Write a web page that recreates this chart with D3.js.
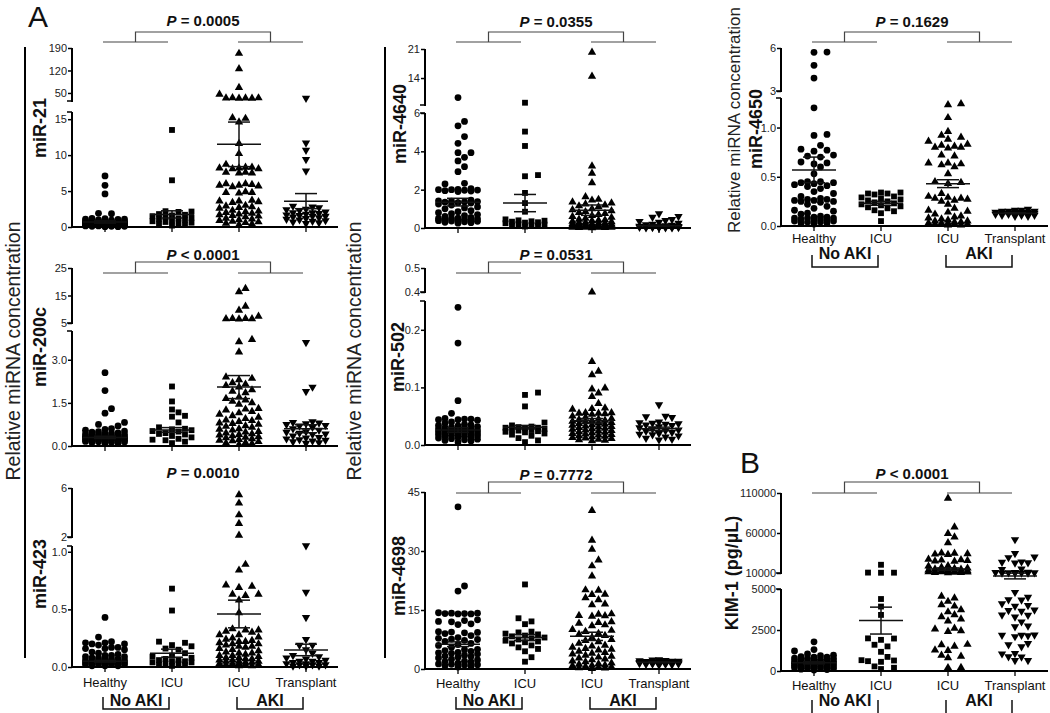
<!DOCTYPE html>
<html><head><meta charset="utf-8">
<script src="https://cdn.jsdelivr.net/npm/d3@7"></script>
<style>
body{margin:0;background:#fff}
svg{display:block}
text{font-family:"Liberation Sans",Arial,Helvetica,sans-serif}
</style>
</head><body>
<svg id="chart" width="1050" height="713"></svg>
<script>
// ---------------- DATA ----------------
const groupLabels = ["Healthy", "ICU", "ICU", "Transplant"];
const outcomeLabels = ["No AKI", "AKI"];

// miR-21
const mir21Healthy = [7.1, 5.8, 4.6, 1.9, 1.85, 1.2, 1.15, 1.1, 1.1, 1.05, 1.0, 0.95, 0.9, 0.9, 0.85, 0.8, 0.8, 0.75, 0.75, 0.7, 0.7, 0.65, 0.65, 0.6, 0.6, 0.6, 0.55, 0.55, 0.5, 0.5, 0.5, 0.45, 0.45, 0.45, 0.4, 0.4, 0.4, 0.35, 0.35, 0.35, 0.3, 0.3, 0.3, 0.3, 0.25, 0.25, 0.25, 0.2, 0.2, 0.2, 0.2, 0.15, 0.15, 0.15, 0.1, 0.1, 0.1, 0.05, 0.05];
const mir21IcuNoAki = [13.5, 6.5, 2.2, 2.15, 2.1, 1.8, 1.7, 1.6, 1.5, 1.4, 1.3, 1.2, 1.1, 1.0, 0.9, 0.8, 0.7, 0.6, 0.5, 0.4, 0.3, 0.2];
const mir21IcuAki = [173, 125, 67, 46, 35, 34.5, 34, 34, 33.5, 33, 15.2, 15.1, 14.6, 11.6, 10.2, 8.7, 8.3, 8.3, 8.2, 8.2, 8.1, 8.1, 7.6, 7.6, 7.5, 7.5, 6.0, 6.0, 5.9, 5.8, 5.8, 5.7, 5.6, 4.9, 4.8, 4.8, 4.7, 3.7, 3.6, 3.6, 3.5, 3.4, 3.0, 2.9, 2.8, 2.7, 2.6, 2.3, 2.2, 2.1, 2.0, 1.9, 1.8, 1.7, 1.6, 1.5, 1.4, 1.2, 1.1, 1.0, 0.9, 0.8, 0.7, 0.6, 0.5, 0.4, 0.3];
const mir21Transplant = [34, 11.7, 10.7, 9.4, 7.8, 2.9, 2.8, 2.7, 2.5, 2.4, 2.3, 2.1, 2.0, 2.0, 1.9, 1.8, 1.7, 1.6, 1.5, 1.5, 1.4, 1.3, 1.2, 1.1, 1.0, 0.9, 0.8, 0.7, 0.6, 0.5];
const mir21Mean = [0.7, 1.75, 11.5, 3.6];
const mir21Sem = [0.15, 0.5, 3.1, 1.05];
const mir21Ticks = [0, 5, 10, 15, 50, 120, 190];
const mir21TickLabels = ["0", "5", "10", "15", "50", "120", "190"];

// miR-200c
const mir200cHealthy = [2.55, 1.93, 1.3, 1.14, 0.82, 0.75, 0.7, 0.6, 0.58, 0.55, 0.52, 0.5, 0.48, 0.46, 0.45, 0.44, 0.42, 0.4, 0.4, 0.38, 0.37, 0.36, 0.35, 0.34, 0.33, 0.32, 0.31, 0.3, 0.3, 0.29, 0.28, 0.27, 0.26, 0.25, 0.25, 0.24, 0.23, 0.22, 0.21, 0.2, 0.2, 0.19, 0.18, 0.17, 0.16, 0.15, 0.14, 0.13, 0.12, 0.1, 0.08];
const mir200cIcuNoAki = [2.07, 1.55, 1.27, 1.17, 1.05, 1.02, 0.82, 0.65, 0.6, 0.58, 0.55, 0.52, 0.5, 0.45, 0.42, 0.4, 0.35, 0.3, 0.25, 0.22, 0.2, 0.15, 0.1];
const mir200cIcuAki = [17.5, 16.3, 11.1, 9.6, 7.4, 6.6, 6.6, 6.5, 6.5, 6.4, 3.7, 3.62, 3.27, 2.4, 2.35, 2.3, 2.2, 2.15, 2.1, 2.05, 1.95, 1.9, 1.85, 1.7, 1.65, 1.6, 1.55, 1.5, 1.45, 1.3, 1.28, 1.25, 1.2, 1.15, 1.1, 1.05, 1.0, 0.95, 0.9, 0.88, 0.85, 0.8, 0.78, 0.75, 0.7, 0.68, 0.65, 0.6, 0.58, 0.55, 0.5, 0.48, 0.45, 0.42, 0.4, 0.38, 0.35, 0.32, 0.3, 0.28, 0.25, 0.22, 0.2, 0.18, 0.15, 0.12, 0.1, 0.08, 0.05];
const mir200cTransplant = [3.6, 2.05, 1.9, 0.85, 0.82, 0.8, 0.78, 0.75, 0.72, 0.7, 0.65, 0.6, 0.55, 0.5, 0.48, 0.45, 0.42, 0.4, 0.35, 0.3, 0.28, 0.25, 0.22, 0.2, 0.18, 0.15, 0.12, 0.1];
const mir200cMean = [0.3, 0.56, 2.05, 0.6];
const mir200cSem = [0.04, 0.08, 0.4, 0.14];
const mir200cTicks = [0, 1.5, 3, 5, 15, 25];
const mir200cTickLabels = ["0.0", "1.5", "3.0", "5", "15", "25"];

// miR-423
const mir423Healthy = [0.43, 0.26, 0.22, 0.21, 0.21, 0.2, 0.2, 0.19, 0.17, 0.17, 0.16, 0.16, 0.15, 0.13, 0.12, 0.11, 0.1, 0.1, 0.09, 0.09, 0.08, 0.08, 0.07, 0.07, 0.07, 0.06, 0.06, 0.06, 0.05, 0.05, 0.05, 0.05, 0.04, 0.04, 0.04, 0.04, 0.03, 0.03, 0.03, 0.03, 0.02, 0.02, 0.02, 0.02, 0.01, 0.01, 0.01];
const mir423IcuNoAki = [0.68, 0.49, 0.22, 0.21, 0.19, 0.18, 0.16, 0.15, 0.12, 0.1, 0.09, 0.08, 0.07, 0.06, 0.06, 0.05, 0.05, 0.04, 0.04, 0.03, 0.03, 0.02, 0.02, 0.01];
const mir423IcuAki = [5.45, 4.76, 3.8, 3.1, 2.14, 0.89, 0.84, 0.71, 0.7, 0.69, 0.63, 0.63, 0.62, 0.58, 0.47, 0.33, 0.32, 0.32, 0.31, 0.3, 0.28, 0.28, 0.26, 0.25, 0.24, 0.23, 0.22, 0.22, 0.21, 0.2, 0.2, 0.19, 0.18, 0.18, 0.17, 0.16, 0.15, 0.14, 0.13, 0.12, 0.12, 0.11, 0.1, 0.1, 0.09, 0.08, 0.08, 0.07, 0.07, 0.06, 0.06, 0.05, 0.05, 0.05, 0.04, 0.04, 0.03, 0.03, 0.03, 0.02, 0.02, 0.02, 0.01, 0.01];
const mir423Transplant = [1.08, 0.65, 0.43, 0.24, 0.19, 0.19, 0.15, 0.12, 0.1, 0.09, 0.08, 0.07, 0.06, 0.05, 0.05, 0.04, 0.04, 0.03, 0.03, 0.02, 0.02, 0.02, 0.01, 0.01, 0.01];
const mir423Mean = [0.05, 0.12, 0.46, 0.148];
const mir423Sem = [0.007, 0.035, 0.12, 0.05];
const mir423Ticks = [0, 0.5, 1, 2, 6];
const mir423TickLabels = ["0.0", "0.5", "1.0", "2", "6"];

// miR-4640
const mir4640Healthy = [9.3, 5.56, 5.33, 4.77, 4.42, 3.93, 3.93, 3.69, 3.5, 3.2, 2.94, 2.33, 2.3, 2.05, 2.02, 2.0, 2.0, 1.98, 1.97, 1.95, 1.93, 1.9, 1.45, 1.42, 1.4, 1.38, 1.36, 1.35, 1.32, 1.3, 1.25, 1.2, 1.1, 1.05, 1.0, 0.9, 0.85, 0.8, 0.75, 0.7, 0.65, 0.6, 0.55, 0.52, 0.5, 0.5, 0.48, 0.46, 0.44, 0.42, 0.4, 0.38, 0.36, 0.35, 0.32, 0.3, 0.28, 0.25];
const mir4640IcuNoAki = [8.05, 5.03, 4.28, 2.76, 2.7, 1.83, 1.3, 0.85, 0.45, 0.4, 0.38, 0.35, 0.33, 0.3, 0.28, 0.25, 0.2, 0.18, 0.15, 0.12, 0.1, 0.08];
const mir4640IcuAki = [20.2, 14.4, 3.23, 2.85, 2.36, 1.63, 1.49, 1.45, 1.35, 1.3, 1.25, 1.2, 1.15, 1.1, 1.0, 0.95, 0.9, 0.85, 0.8, 0.75, 0.7, 0.65, 0.6, 0.55, 0.5, 0.45, 0.42, 0.4, 0.38, 0.35, 0.32, 0.3, 0.28, 0.26, 0.25, 0.23, 0.22, 0.2, 0.19, 0.18, 0.17, 0.16, 0.15, 0.14, 0.13, 0.12, 0.11, 0.1, 0.1, 0.09, 0.08, 0.08, 0.07, 0.06, 0.06, 0.05, 0.05, 0.04, 0.04, 0.03, 0.03, 0.02, 0.02, 0.01];
const mir4640Transplant = [0.75, 0.6, 0.57, 0.45, 0.4, 0.35, 0.3, 0.25, 0.2, 0.18, 0.15, 0.12, 0.1, 0.1, 0.08, 0.07, 0.06, 0.05, 0.05, 0.04, 0.04, 0.03, 0.03, 0.02, 0.02, 0.01, 0.01];
const mir4640Mean = [1.35, 1.3, 0.93, 0.12];
const mir4640Sem = [0.2, 0.45, 0.27, 0.03];
const mir4640Ticks = [0, 2, 4, 6, 14, 21];
const mir4640TickLabels = ["0", "2", "4", "6", "14", "21"];

// miR-502
const mir502Healthy = [0.239, 0.177, 0.077, 0.055, 0.046, 0.045, 0.045, 0.044, 0.044, 0.043, 0.04, 0.038, 0.036, 0.035, 0.034, 0.033, 0.032, 0.031, 0.03, 0.03, 0.029, 0.028, 0.027, 0.026, 0.026, 0.025, 0.025, 0.024, 0.023, 0.023, 0.022, 0.021, 0.02, 0.02, 0.019, 0.018, 0.018, 0.017, 0.016, 0.015, 0.015, 0.014, 0.013, 0.012, 0.011, 0.01, 0.009, 0.008, 0.007, 0.005];
const mir502IcuNoAki = [0.091, 0.087, 0.067, 0.039, 0.034, 0.032, 0.031, 0.03, 0.03, 0.029, 0.028, 0.027, 0.026, 0.025, 0.024, 0.023, 0.022, 0.02, 0.018, 0.016, 0.012, 0.008, 0.005];
const mir502IcuAki = [0.4, 0.145, 0.128, 0.122, 0.099, 0.097, 0.09, 0.084, 0.072, 0.064, 0.063, 0.062, 0.056, 0.056, 0.055, 0.055, 0.054, 0.053, 0.05, 0.048, 0.046, 0.045, 0.044, 0.043, 0.042, 0.041, 0.04, 0.039, 0.038, 0.037, 0.036, 0.035, 0.034, 0.033, 0.032, 0.031, 0.03, 0.029, 0.028, 0.027, 0.026, 0.025, 0.024, 0.023, 0.022, 0.021, 0.02, 0.019, 0.018, 0.017, 0.016, 0.015, 0.014, 0.013, 0.012, 0.011, 0.01, 0.009, 0.008, 0.007];
const mir502Transplant = [0.07, 0.05, 0.049, 0.048, 0.04, 0.039, 0.038, 0.037, 0.036, 0.035, 0.034, 0.032, 0.03, 0.028, 0.026, 0.025, 0.024, 0.022, 0.02, 0.019, 0.018, 0.016, 0.014, 0.012, 0.01, 0.009];
const mir502Mean = [0.026, 0.031, 0.042, 0.028];
const mir502Sem = [0.004, 0.003, 0.004, 0.003];
const mir502Ticks = [0, 0.1, 0.2, 0.4, 0.5];
const mir502TickLabels = ["0.0", "0.1", "0.2", "0.4", "0.5"];

// miR-4698
const mir4698Healthy = [41.2, 21.1, 19.8, 14.3, 14.2, 14.2, 14.1, 14.1, 14.0, 14.0, 12.5, 12.3, 12.1, 12.0, 11.5, 11.3, 9.5, 9.4, 9.3, 9.2, 9.0, 8.5, 8.0, 7.8, 7.6, 7.5, 7.3, 7.0, 6.5, 6.2, 6.0, 5.5, 5.0, 4.9, 4.7, 4.5, 4.2, 4.1, 4.0, 3.8, 3.5, 3.3, 3.2, 3.0, 2.8, 2.5, 2.3, 2.0, 1.9, 1.8, 1.5, 1.3, 1.2, 1.1, 1.0, 0.8, 0.7, 0.5];
const mir4698IcuNoAki = [21.5, 12.9, 12.1, 11.4, 9.5, 9.3, 9.0, 8.8, 8.5, 8.3, 8.0, 7.8, 7.5, 7.2, 7.0, 6.8, 6.5, 6.0, 5.5, 5.1, 4.5, 3.0, 1.86];
const mir4698IcuAki = [40.3, 32.7, 30.4, 27.7, 26.2, 23.6, 20.1, 20.0, 19.0, 18.9, 18.1, 17.6, 16.5, 16.3, 14.0, 13.9, 13.6, 13.5, 13.4, 12.0, 11.8, 11.6, 11.2, 11.0, 10.0, 9.8, 9.5, 9.0, 8.8, 8.5, 8.0, 7.5, 7.2, 6.9, 6.5, 6.0, 5.8, 5.5, 5.2, 5.0, 4.8, 4.5, 4.2, 4.0, 3.8, 3.5, 3.2, 3.0, 2.8, 2.5, 2.3, 2.0, 1.8, 1.5, 1.3, 1.2, 1.0, 0.9, 0.8, 0.6, 0.5, 0.4, 0.3, 0.2, 0.1];
const mir4698Transplant = [2.4, 2.3, 2.2, 2.1, 2.0, 2.0, 1.9, 1.9, 1.8, 1.8, 1.7, 1.7, 1.6, 1.6, 1.5, 1.5, 1.5, 1.4, 1.4, 1.4, 1.3, 1.3, 1.2, 1.2, 1.1, 1.0];
const mir4698Mean = [6.3, 8.0, 8.3, 1.7];
const mir4698Sem = [0.6, 0.75, 1.05, 0.1];
const mir4698Ticks = [0, 15, 30, 45];
const mir4698TickLabels = ["0", "15", "30", "45"];

// miR-4650
const mir4650Healthy = [5.72, 5.7, 4.79, 3.9, 1.2, 0.93, 0.92, 0.82, 0.78, 0.77, 0.76, 0.72, 0.71, 0.7, 0.65, 0.64, 0.63, 0.6, 0.53, 0.45, 0.45, 0.44, 0.44, 0.43, 0.42, 0.41, 0.4, 0.38, 0.35, 0.33, 0.3, 0.28, 0.27, 0.27, 0.26, 0.26, 0.25, 0.25, 0.24, 0.22, 0.2, 0.18, 0.16, 0.15, 0.13, 0.12, 0.1, 0.09, 0.09, 0.08, 0.08, 0.08, 0.07, 0.07, 0.06, 0.06, 0.05, 0.05, 0.04, 0.04, 0.03, 0.03, 0.02];
const mir4650IcuNoAki = [0.34, 0.34, 0.33, 0.33, 0.32, 0.3, 0.29, 0.28, 0.27, 0.26, 0.25, 0.24, 0.23, 0.22, 0.21, 0.2, 0.19, 0.18, 0.16, 0.15, 0.13, 0.05];
const mir4650IcuAki = [1.24, 1.23, 1.1, 0.96, 0.92, 0.9, 0.88, 0.86, 0.83, 0.82, 0.81, 0.8, 0.8, 0.79, 0.72, 0.71, 0.64, 0.64, 0.63, 0.62, 0.6, 0.53, 0.45, 0.44, 0.43, 0.33, 0.3, 0.29, 0.28, 0.28, 0.27, 0.26, 0.25, 0.22, 0.18, 0.16, 0.15, 0.14, 0.12, 0.1, 0.09, 0.08, 0.07, 0.06, 0.05, 0.05, 0.04, 0.04, 0.03, 0.03, 0.03, 0.02, 0.02, 0.02, 0.01, 0.01];
const mir4650Transplant = [0.17, 0.16, 0.16, 0.15, 0.15, 0.15, 0.14, 0.14, 0.14, 0.14, 0.13, 0.13, 0.13, 0.13, 0.13, 0.12, 0.12, 0.12, 0.12, 0.12, 0.11, 0.11, 0.11, 0.1, 0.1];
const mir4650Mean = [0.57, 0.23, 0.43, 0.13];
const mir4650Sem = [0.13, 0.02, 0.04, 0.005];
const mir4650Ticks = [0, 0.5, 1, 3, 6];
const mir4650TickLabels = ["0.0", "0.5", "1.0", "3", "6"];

// KIM-1 (pg/uL)
const kim1Healthy = [1780, 1310, 1220, 1040, 960, 930, 880, 850, 840, 790, 770, 760, 720, 690, 680, 650, 610, 600, 590, 550, 540, 510, 500, 470, 450, 440, 410, 400, 370, 360, 330, 310, 300, 270, 260, 230, 210, 200, 170, 150, 140, 110, 90, 60];
const kim1IcuNoAki = [20300, 10500, 10400, 10300, 4390, 3930, 3420, 1990, 1980, 1900, 1600, 1500, 1170, 860, 660, 640, 600, 560, 280, 200, 120];
const kim1IcuAki = [103400, 67400, 59200, 55000, 47700, 35000, 34600, 34000, 33500, 33000, 27000, 26500, 26000, 25500, 25000, 24500, 19000, 18500, 17000, 16000, 15500, 15000, 14500, 14000, 13500, 13000, 12800, 12500, 12200, 12000, 11800, 11500, 11300, 11000, 10800, 10600, 10400, 10200, 4550, 4450, 4240, 4040, 3950, 3730, 3600, 3420, 3300, 3160, 3050, 2600, 2550, 2450, 2400, 1620, 1600, 1500, 1280, 1250, 960, 900, 800, 210, 200];
const kim1Transplant = [51800, 34600, 30000, 29300, 24000, 23500, 23000, 22500, 15000, 14500, 11000, 10800, 10600, 10400, 10300, 10200, 10100, 10000, 10000, 4800, 4500, 4350, 4340, 4100, 4000, 3950, 3730, 3700, 3650, 3420, 3400, 3300, 3000, 2750, 2700, 2200, 2190, 2180, 2150, 2100, 1680, 1600, 1480, 1070, 1050, 870, 860, 650, 640];
const kim1Mean = [500, 3074, 14900, 9060];
const kim1Sem = [60, 820, 1500, 900];
const kim1Ticks = [0, 2500, 5000, 10000, 60000, 110000];
const kim1TickLabels = ["0", "2500", "5000", "10000", "60000", "110000"];

const pTexts = ["= 0.0005", "< 0.0001", "= 0.0010", "= 0.0355", "= 0.0531", "= 0.7772", "= 0.1629", "< 0.0001"];
const panelNames = ["miR-21", "miR-200c", "miR-423", "miR-4640", "miR-502", "miR-4698", "miR-4650", "KIM-1 (pg/\u00B5L)"];

// ---------------- LAYOUT ----------------
const panels = [
  {data:[mir21Healthy,mir21IcuNoAki,mir21IcuAki,mir21Transplant], mean:mir21Mean, sem:mir21Sem, ticks:mir21Ticks, tl:mir21TickLabels,
   ax:72, xEnd:338, dom:[0,16,25,190], rng:[227,112,101,48], pY:26, br:[32,42], lab:[46,128]},
  {data:[mir200cHealthy,mir200cIcuNoAki,mir200cIcuAki,mir200cTransplant], mean:mir200cMean, sem:mir200cSem, ticks:mir200cTicks, tl:mir200cTickLabels,
   ax:72, xEnd:338, dom:[0,4,5,25], rng:[446,331,323,268], pY:260, br:[262,273], lab:[46,347]},
  {data:[mir423Healthy,mir423IcuNoAki,mir423IcuAki,mir423Transplant], mean:mir423Mean, sem:mir423Sem, ticks:mir423Ticks, tl:mir423TickLabels,
   ax:72, xEnd:338, dom:[0,1.05,2,6], rng:[667,546,537,488], pY:478, br:null, lab:[46,574], xl:{y:687, g:706, b:[697,709]}},
  {data:[mir4640Healthy,mir4640IcuNoAki,mir4640IcuAki,mir4640Transplant], mean:mir4640Mean, sem:mir4640Sem, ticks:mir4640Ticks, tl:mir4640TickLabels,
   ax:425, xEnd:691, dom:[0,6,7.5,21], rng:[228,113,105,49], pY:27, br:[32,42], lab:[406,124]},
  {data:[mir502Healthy,mir502IcuNoAki,mir502IcuAki,mir502Transplant], mean:mir502Mean, sem:mir502Sem, ticks:mir502Ticks, tl:mir502TickLabels,
   ax:425, xEnd:691, dom:[0,0.25,0.4,0.5], rng:[445,301,292,268], pY:260, br:[262,273], lab:[404,357]},
  {data:[mir4698Healthy,mir4698IcuNoAki,mir4698IcuAki,mir4698Transplant], mean:mir4698Mean, sem:mir4698Sem, ticks:mir4698Ticks, tl:mir4698TickLabels,
   ax:425, xEnd:691, dom:[0,45], rng:[669,492], pY:480, br:[482,493], lab:[405,576], xl:{y:688, g:706, b:[697,709]}},
  {data:[mir4650Healthy,mir4650IcuNoAki,mir4650IcuAki,mir4650Transplant], mean:mir4650Mean, sem:mir4650Sem, ticks:mir4650Ticks, tl:mir4650TickLabels,
   ax:781, xEnd:1048, dom:[0,1.3,3,6], rng:[226,98,91,48], pY:27, br:[32,42], lab:[762,129], xl:{y:243, g:259, b:[255,267]}},
  {data:[kim1Healthy,kim1IcuNoAki,kim1IcuAki,kim1Transplant], mean:kim1Mean, sem:kim1Sem, ticks:kim1Ticks, tl:kim1TickLabels,
   ax:781, xEnd:1048, dom:[0,5000,10000,110000], rng:[671,589,573,493], pY:479, br:[482,493], lab:[738,573], xl:{y:690, g:706, b:[700,716]}}
];

const svg = d3.select("#chart");
const shapes = [d3.symbolCircle, d3.symbolSquare, d3.symbolTriangle, d3.symbolTriangle];
const shapeSizes = [36, 34, 30, 30];

function swarm(vals, y, cx, step, maxK, diam) {
  const pts = vals.map(v => ({v, y: y(v)})).sort((a, b) => b.y - a.y);
  const ks = [0];
  for (let k = 1; k <= maxK; k++) ks.push(k, -k);
  const placed = [];
  for (const p of pts) {
    let best = cx, bestD = -1;
    for (const k of ks) {
      const x = cx + k * step;
      let minD = Infinity;
      for (const q of placed) {
        const d = Math.hypot(q.x - x, q.y - p.y);
        if (d < minD) minD = d;
      }
      if (minD >= diam) { best = x; bestD = Infinity; break; }
      if (minD > bestD) { bestD = minD; best = x; }
    }
    p.x = best;
    placed.push(p);
  }
  return placed;
}

panels.forEach((P, pi) => {
  const g = svg.append("g");
  const x = d3.scalePoint().domain(d3.range(4)).range([P.ax + 33, P.ax + 234]);
  const y = d3.scaleLinear().domain(P.dom).range(P.rng);

  const yAxis = d3.axisLeft(y).tickValues(P.ticks).tickSize(4).tickPadding(1)
    .tickFormat((d, i) => P.tl[i]);
  const ag = g.append("g").attr("transform", `translate(${P.ax},0)`).call(yAxis);
  ag.select(".domain").remove();
  ag.selectAll(".tick line").attr("stroke", "#000").attr("stroke-width", 1.5);
  ag.selectAll(".tick text").attr("font-size", 11).attr("fill", "#222")
    .attr("font-family", "'Liberation Sans',Arial,sans-serif");

  const segs = P.dom.length === 4 ? [[P.dom[0], P.dom[1]], [P.dom[2], P.dom[3]]] : [[P.dom[0], P.dom[1]]];
  segs.forEach(s => {
    g.append("line").attr("x1", P.ax).attr("x2", P.ax).attr("y1", y(s[0]) + 1).attr("y2", y(s[1]))
      .attr("stroke", "#000").attr("stroke-width", 2);
  });
  if (P.dom.length === 4) {
    [P.dom[1], P.dom[2]].forEach(v => {
      g.append("line").attr("x1", P.ax - 5).attr("x2", P.ax).attr("y1", y(v)).attr("y2", y(v))
        .attr("stroke", "#000").attr("stroke-width", 1.5);
    });
  }
  const y0 = y(0);
  g.append("line").attr("x1", P.ax - 1).attr("x2", P.xEnd).attr("y1", y0).attr("y2", y0)
    .attr("stroke", "#000").attr("stroke-width", 2);
  d3.range(4).forEach(i => {
    g.append("line").attr("x1", x(i)).attr("x2", x(i)).attr("y1", y0).attr("y2", y0 + 5)
      .attr("stroke", "#000").attr("stroke-width", 1.3);
  });

  P.data.forEach((vals, gi) => {
    const pts = swarm(vals, y, x(gi), 6.5, 3, 7);
    const sym = d3.symbol().type(shapes[gi]).size(shapeSizes[gi]);
    g.append("g").selectAll("path").data(pts).join("path")
      .attr("d", sym)
      .attr("transform", d => `translate(${d.x},${d.y})` + (gi === 3 ? " rotate(180)" : ""))
      .attr("fill", "#000");
  });

  P.mean.forEach((m, gi) => {
    const cx = x(gi), s = P.sem[gi];
    const lg = g.append("g").attr("stroke", "#111").attr("stroke-width", 1.5);
    lg.append("line").attr("x1", cx - 22).attr("x2", cx + 22).attr("y1", y(m)).attr("y2", y(m));
    lg.append("line").attr("x1", cx).attr("x2", cx).attr("y1", y(m - s)).attr("y2", y(m + s));
    [m - s, m + s].forEach(v => lg.append("line").attr("x1", cx - 11).attr("x2", cx + 11).attr("y1", y(v)).attr("y2", y(v)));
  });

  const midL = (x(0) + x(1)) / 2 - 3, midR = (x(2) + x(3)) / 2 - 2;
  const pt = g.append("text").attr("x", (midL + midR) / 2).attr("y", P.pY).attr("text-anchor", "middle")
    .attr("font-size", 15).attr("font-weight", "bold").attr("fill", "#111");
  pt.append("tspan").attr("font-style", "italic").text("P");
  pt.append("tspan").text(" " + pTexts[pi]);
  if (P.br) {
    const bg = g.append("g").attr("stroke", "#444").attr("stroke-width", 1.2).attr("fill", "none");
    bg.append("line").attr("x1", x(0) - 2).attr("x2", x(1) - 4).attr("y1", P.br[1]).attr("y2", P.br[1]);
    bg.append("line").attr("x1", x(2) - 1).attr("x2", x(3) - 3).attr("y1", P.br[1]).attr("y2", P.br[1]);
    bg.append("path").attr("d", `M${midL},${P.br[1]}V${P.br[0]}H${midR}V${P.br[1]}`);
  }

  g.append("text").attr("transform", `translate(${P.lab[0]},${P.lab[1]}) rotate(-90)`)
    .attr("text-anchor", "middle").attr("font-size", 18).attr("font-weight", "bold").attr("fill", "#111")
    .text(panelNames[pi]);

  if (P.xl) {
    d3.range(4).forEach(i => {
      g.append("text").attr("x", x(i)).attr("y", P.xl.y).attr("text-anchor", "middle")
        .attr("font-size", 13).attr("fill", "#111").text(groupLabels[i]);
    });
    [[0, 1], [2, 3]].forEach((pair, k) => {
      const xa = x(pair[0]) - 2, xb = x(pair[1]) - 3;
      g.append("path").attr("d", `M${xa},${P.xl.b[0]}V${P.xl.b[1]}H${xb}V${P.xl.b[0]}`)
        .attr("fill", "none").attr("stroke", "#111").attr("stroke-width", 1.5);
      g.append("text").attr("x", (xa + xb) / 2).attr("y", P.xl.g).attr("text-anchor", "middle")
        .attr("font-size", 16).attr("font-weight", "bold").attr("fill", "#111").text(outcomeLabels[k]);
    });
  }
});

const rel = "Relative miRNA concentration";
[[20, 351, 19.5], [361, 351, 19.5], [740, 120, 17]].forEach(a => {
  svg.append("text").attr("transform", `translate(${a[0]},${a[1]}) rotate(-90)`)
    .attr("text-anchor", "middle").attr("font-size", a[2]).attr("fill", "#222").text(rel);
});
[25, 385].forEach(xx => {
  svg.append("line").attr("x1", xx).attr("x2", xx).attr("y1", 47).attr("y2", 658)
    .attr("stroke", "#000").attr("stroke-width", 2);
});
svg.append("text").attr("x", 28).attr("y", 27).attr("font-size", 30).attr("fill", "#111").text("A");
svg.append("text").attr("x", 740).attr("y", 473).attr("font-size", 30).attr("fill", "#111").text("B");
</script>
</body></html>
